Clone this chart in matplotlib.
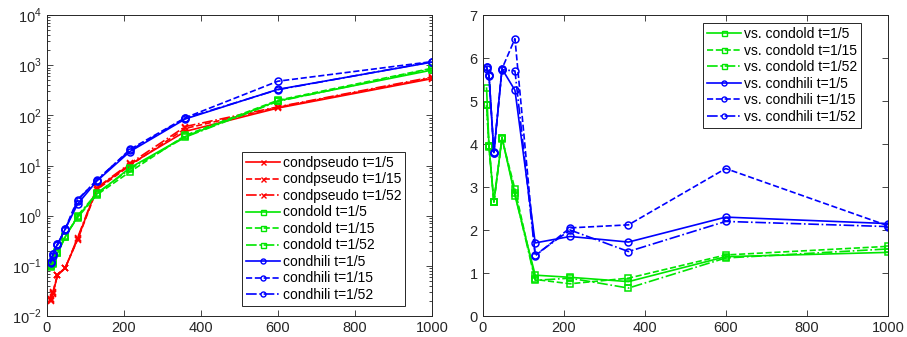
import matplotlib
matplotlib.use("Agg")
import matplotlib.pyplot as plt

plt.rcParams["font.family"] = ["Liberation Sans", "DejaVu Sans"]
plt.rcParams["mathtext.fontset"] = "custom"
plt.rcParams["mathtext.rm"] = "Liberation Sans"

# ---------------------------------------------------------------------------
# Dados
# ---------------------------------------------------------------------------
x = [10, 16, 28, 48, 80, 130, 216, 360, 600, 1000]

# painel esquerdo: tempos (escala log)
pseudo_5 = [0.020, 0.028, 0.065, 0.090, 0.34, 3.5, 10.5, 48, 140, 540]
pseudo_15 = [0.022, 0.030, 0.066, 0.092, 0.33, 3.3, 10.0, 55, 145, 560]
pseudo_52 = [0.021, 0.029, 0.065, 0.090, 0.36, 3.6, 11.0, 60, 148, 580]
old_5 = [0.100, 0.110, 0.18, 0.38, 0.95, 2.7, 9.0, 38, 195, 800]
old_15 = [0.095, 0.120, 0.19, 0.39, 0.92, 2.6, 7.5, 40, 200, 870]
old_52 = [0.105, 0.115, 0.18, 0.37, 1.00, 2.8, 8.5, 37, 190, 850]
hili_5 = [0.115, 0.17, 0.27, 0.54, 1.7, 4.9, 19, 85, 330, 1150]
hili_15 = [0.120, 0.17, 0.26, 0.55, 2.1, 5.0, 21, 90, 480, 1180]
hili_52 = [0.120, 0.16, 0.27, 0.53, 2.0, 5.2, 20, 88, 325, 1170]

# painel direito: razoes
r_old_5 = [5.3, 3.95, 2.65, 4.15, 2.80, 0.95, 0.90, 0.80, 1.38, 1.48]
r_old_15 = [4.9, 3.95, 2.65, 4.12, 2.95, 0.85, 0.75, 0.88, 1.42, 1.62]
r_old_52 = [4.9, 3.93, 2.65, 4.15, 2.85, 0.83, 0.88, 0.65, 1.35, 1.56]
r_hili_5 = [5.80, 5.60, 3.80, 5.75, 5.25, 1.70, 1.85, 1.72, 2.30, 2.15]
r_hili_15 = [5.80, 5.60, 3.78, 5.75, 6.45, 1.40, 2.05, 2.12, 3.43, 2.10]
r_hili_52 = [5.75, 5.58, 3.82, 5.73, 5.70, 1.42, 2.00, 1.50, 2.20, 2.08]

t_labels = ["t=1/5", "t=1/15", "t=1/52"]
estilos = ["-", "--", "-."]
log_ticks = [1e-2, 1e-1, 1e0, 1e1, 1e2, 1e3, 1e4]
log_labels = [r"$10^{-2}$", r"$10^{-1}$", r"$10^{0}$", r"$10^{1}$",
              r"$10^{2}$", r"$10^{3}$", r"$10^{4}$"]

RED = "#ff0000"
GREEN = "#00e600"
BLUE = "#0000ff"
CINZA = "#262626"


def estilo_matlab(ax):
    ax.tick_params(which="both", direction="in", top=True, right=True,
                   colors=CINZA, labelsize=10.5, width=0.6)
    ax.tick_params(which="major", length=4)
    ax.tick_params(which="minor", length=2)
    for s in ax.spines.values():
        s.set_color(CINZA)
        s.set_linewidth(0.7)


def desenhar(ax, series, cor, marcador, nome, ms):
    for ys, ls, t in zip(series, estilos, t_labels):
        ax.plot(x, ys, color=cor, linestyle=ls, linewidth=1.2,
                marker=marcador, markersize=ms, markerfacecolor="none",
                markeredgecolor=cor, markeredgewidth=1.1,
                label=f"{nome} {t}")


def legenda(ax, loc, ancora):
    leg = ax.legend(loc=loc, bbox_to_anchor=ancora,
                    borderaxespad=0, fontsize=10, handlelength=2.45,
                    numpoints=1, labelspacing=0.18, handletextpad=0.2,
                    borderpad=0.3, fancybox=False, framealpha=1,
                    edgecolor=CINZA)
    leg.get_frame().set_linewidth(0.7)
    for ln in leg.get_lines():
        ln.set_markersize(3.6)
        ln.set_markeredgewidth(1.0)
    return leg


fig = plt.figure(figsize=(9.07, 3.37), dpi=100)
ax1 = fig.add_axes([0.0515, 0.0623, 0.4248, 0.893])
ax2 = fig.add_axes([0.532, 0.0623, 0.4469, 0.893])

# ---------------------------------------------------------------------------
# Painel esquerdo
# ---------------------------------------------------------------------------
desenhar(ax1, [pseudo_5, pseudo_15, pseudo_52], RED, "x", "condpseudo", 5)
desenhar(ax1, [old_5, old_15, old_52], GREEN, "s", "condold", 4.3)
desenhar(ax1, [hili_5, hili_15, hili_52], BLUE, "o", "condhili", 5)
ax1.set_yscale("log")
ax1.set_xlim(0, 1000)
ax1.set_ylim(1e-2, 1e4)
ax1.set_xticks([0, 200, 400, 600, 800, 1000])
ax1.set_yticks(log_ticks)
ax1.set_yticklabels(log_labels)
for lab in ax1.get_yticklabels():
    lab.set_verticalalignment("center_baseline")
estilo_matlab(ax1)
legenda(ax1, "lower left", (0.506, 0.033))

# ---------------------------------------------------------------------------
# Painel direito
# ---------------------------------------------------------------------------
desenhar(ax2, [r_old_5, r_old_15, r_old_52], GREEN, "s", "vs. condold", 4.3)
desenhar(ax2, [r_hili_5, r_hili_15, r_hili_52], BLUE, "o", "vs. condhili", 5)
ax2.set_xlim(0, 1000)
ax2.set_ylim(0, 7)
ax2.set_xticks([0, 200, 400, 600, 800, 1000])
ax2.set_yticks(range(8))
estilo_matlab(ax2)
legenda(ax2, "upper left", (0.5435, 0.973))

fig.savefig("out.png", dpi=100)
plt.close(fig)
